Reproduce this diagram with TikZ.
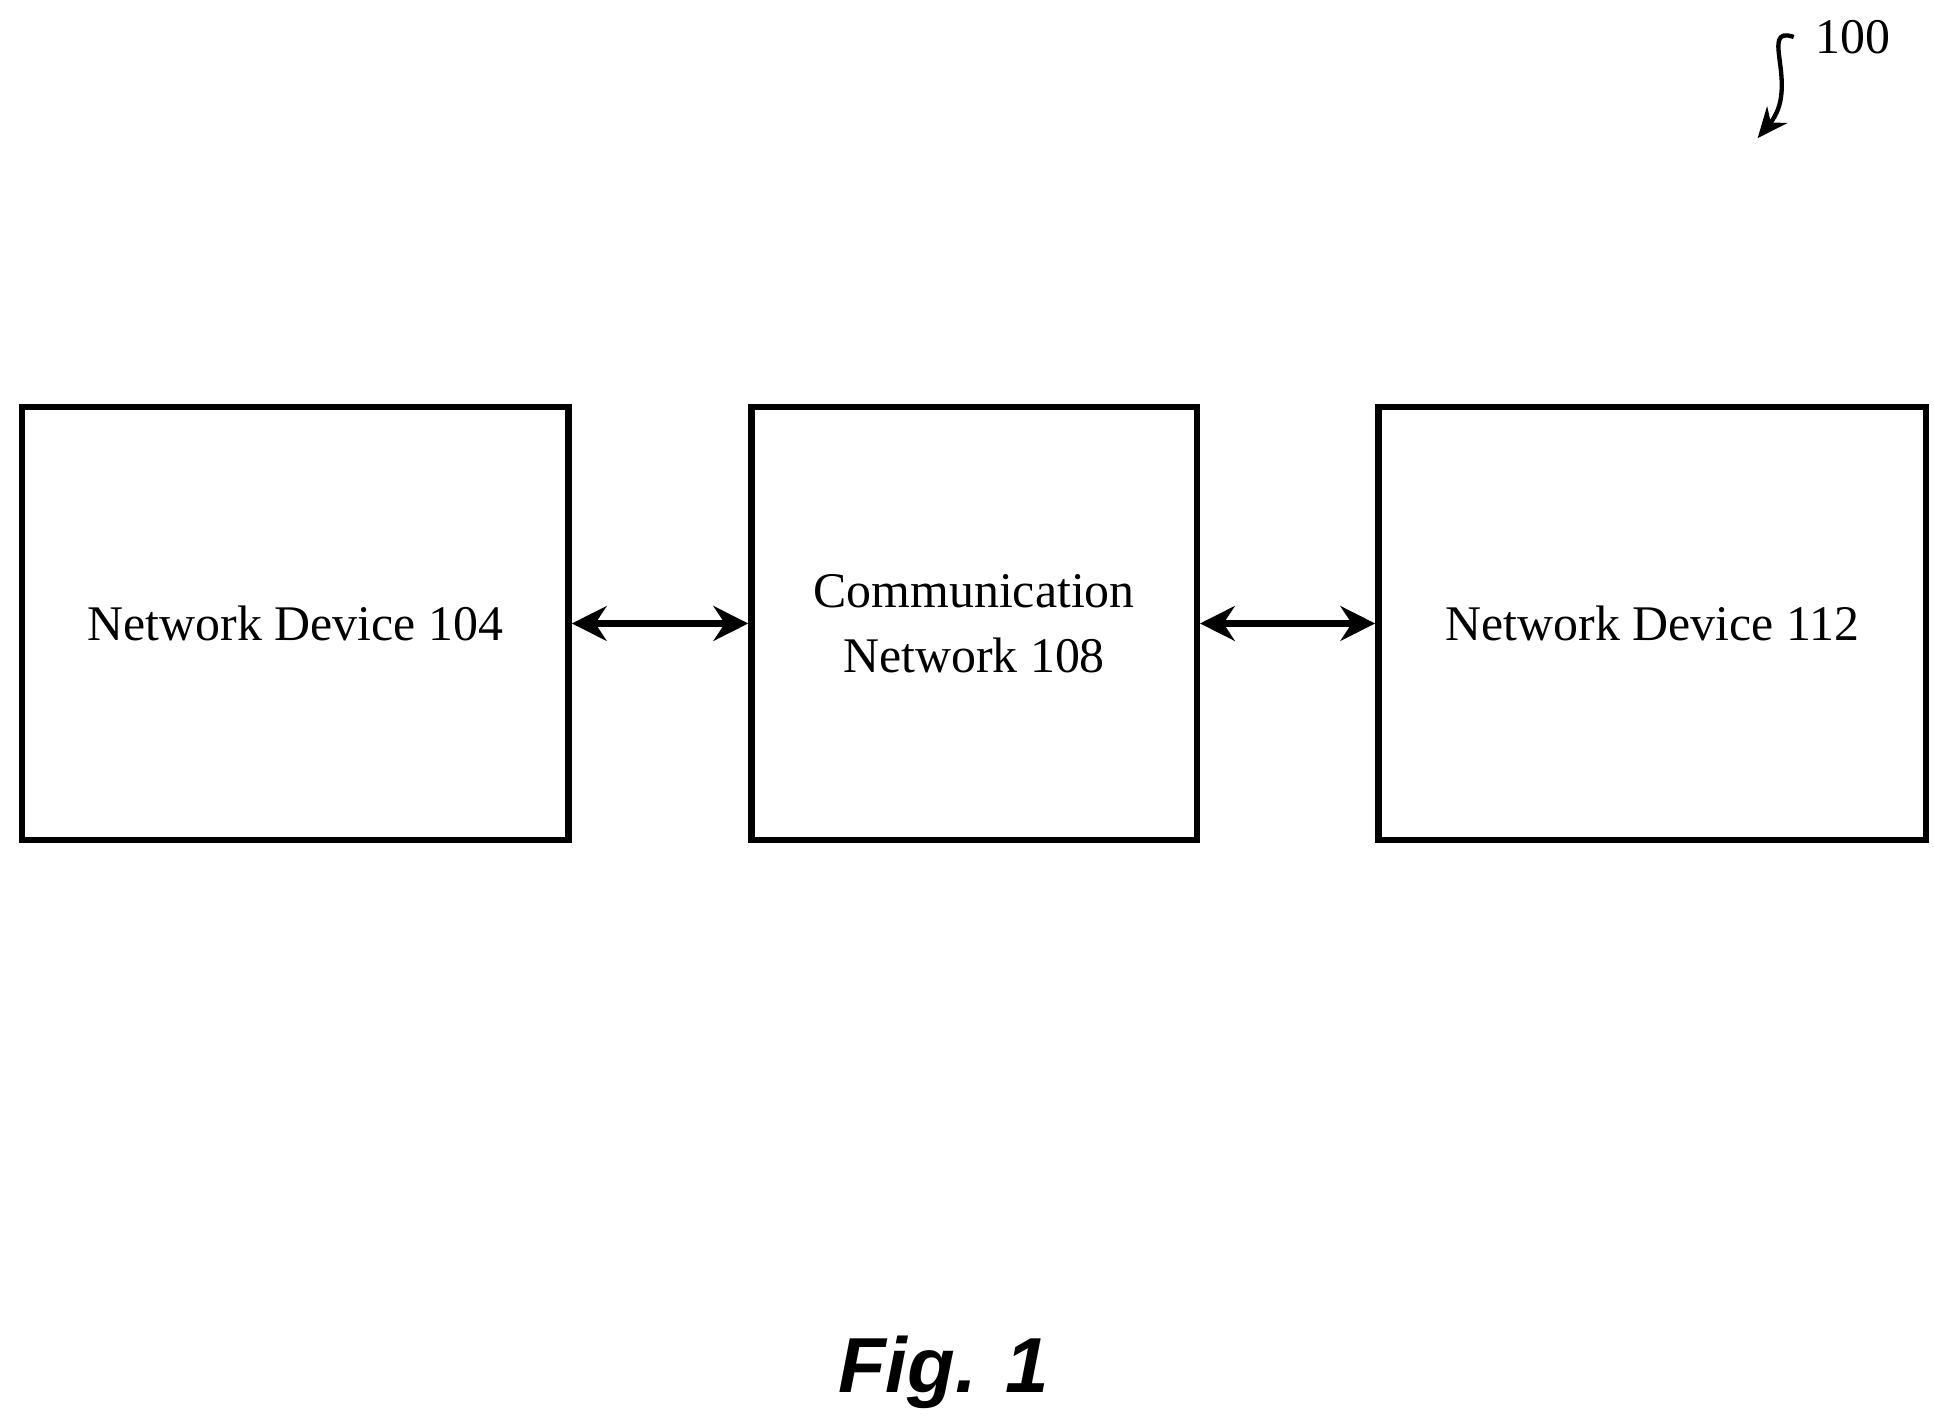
\documentclass[tikz,border=0pt]{standalone}
\usepackage{fontspec}
\setmainfont{Liberation Serif}
\setsansfont{Liberation Sans}
\usetikzlibrary{positioning,arrows.meta}
\tikzset{
  box/.style={draw,line width=1.5pt,minimum height=3.51cm,align=center,
    font=\fontsize{11.5}{15}\selectfont,inner sep=0pt},
  link/.style={{Stealth[length=8pt,width=8pt]}-{Stealth[length=8pt,width=8pt]},line width=1.5pt}
}
\begin{document}
\begin{tikzpicture}
\useasboundingbox (0,0) rectangle (15.68,11.55);
\node (dev1) [box,minimum width=4.43cm] at (2.395,6.495) {Network Device 104};
\node (net) [box,minimum width=3.61cm,right=1.43cm of dev1] {Communication\\Network 108};
\node (dev2) [box,minimum width=4.44cm,right=1.42cm of net] {Network Device 112};
\draw [link] (dev1) -- (net);
\draw [link] (net) -- (dev2);
% reference numeral
\node (ref) [font=\fontsize{11.5}{14}\selectfont] at (15.02,11.25) {100};
\coordinate (tip) at (14.25,10.43);
\draw [-{Stealth[length=7pt,width=6pt]},line width=1pt] (ref.west) ++(-0.05,0)
  .. controls (14.25,11.35) and (14.60,10.85) .. (tip);
\node (fig) [font=\sffamily\bfseries\itshape\fontsize{18}{22}\selectfont] at (7.65,0.42) {Fig. 1};
\end{tikzpicture}
\end{document}
